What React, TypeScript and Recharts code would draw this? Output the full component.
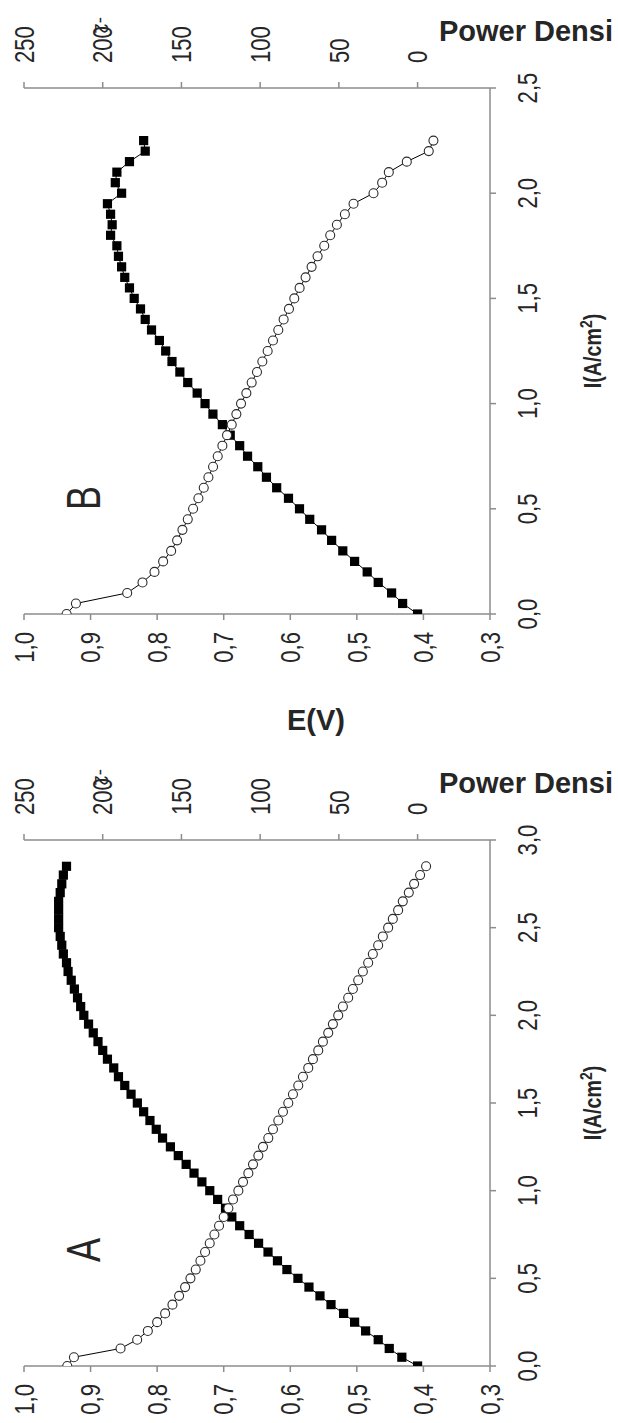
import React from 'react';
import { ScatterChart, Scatter, XAxis, YAxis } from 'recharts';

// ---------- data ----------
const currentA = [
  0, 0.05, 0.1, 0.15, 0.2, 0.25, 0.3, 0.35, 0.4, 0.45,
  0.5, 0.55, 0.6, 0.65, 0.7, 0.75, 0.8, 0.85, 0.9, 0.95,
  1.0, 1.05, 1.1, 1.15, 1.2, 1.25, 1.3, 1.35, 1.4, 1.45,
  1.5, 1.55, 1.6, 1.65, 1.7, 1.75, 1.8, 1.85, 1.9, 1.95,
  2.0, 2.05, 2.1, 2.15, 2.2, 2.25, 2.3, 2.35, 2.4, 2.45,
  2.5, 2.55, 2.6, 2.65, 2.7, 2.75, 2.8, 2.85,
];
const voltageA = [
  0.935, 0.925, 0.855, 0.83, 0.814, 0.8, 0.788, 0.777, 0.767, 0.758,
  0.75, 0.742, 0.735, 0.728, 0.721, 0.714, 0.707, 0.7, 0.693, 0.686,
  0.678, 0.671, 0.663, 0.656, 0.648, 0.641, 0.633, 0.626, 0.618, 0.611,
  0.603, 0.596, 0.588, 0.581, 0.573, 0.566, 0.558, 0.551, 0.543, 0.536,
  0.528, 0.521, 0.513, 0.506, 0.498, 0.491, 0.483, 0.476, 0.468, 0.461,
  0.453, 0.446, 0.438, 0.431, 0.422, 0.414, 0.405, 0.396,
];
const powerA = [
  0, 10, 18, 25, 33, 40, 47, 55, 62, 69,
  76, 83, 89, 95, 101, 107, 113, 118, 122, 127,
  132, 137, 142, 147, 152, 157, 162, 166, 170, 174,
  178, 182, 186, 190, 193, 197, 200, 203, 206, 209,
  212, 214, 216, 218, 220, 222, 223, 225, 226, 227,
  228, 228, 228, 228, 227, 226, 225, 223,
];

const currentB = [
  0, 0.05, 0.1, 0.15, 0.2, 0.25, 0.3, 0.35, 0.4, 0.45,
  0.5, 0.55, 0.6, 0.65, 0.7, 0.75, 0.8, 0.85, 0.9, 0.95,
  1.0, 1.05, 1.1, 1.15, 1.2, 1.25, 1.3, 1.35, 1.4, 1.45,
  1.5, 1.55, 1.6, 1.65, 1.7, 1.75, 1.8, 1.85, 1.9, 1.95,
  2.0, 2.05, 2.1, 2.15, 2.2, 2.25,
];
const voltageB = [
  0.936, 0.922, 0.845, 0.822, 0.804, 0.791, 0.779, 0.77, 0.762, 0.754,
  0.746, 0.738, 0.73, 0.723, 0.716, 0.709, 0.702, 0.695, 0.688, 0.681,
  0.674, 0.666, 0.658, 0.65, 0.642, 0.634, 0.626, 0.618, 0.61, 0.602,
  0.594, 0.586, 0.577, 0.568, 0.559, 0.549, 0.54, 0.53, 0.518, 0.505,
  0.475, 0.462, 0.452, 0.425, 0.392, 0.385,
];
const powerB = [
  0, 9.5, 16.5, 25, 32, 40, 47.5, 54.6, 61, 68.5,
  75, 82, 89.5, 96, 101.5, 108, 113, 119, 124, 130,
  135, 140, 146, 151, 156, 160, 164, 169, 173, 176,
  180, 183, 186, 188, 190, 191, 195, 194, 195, 197,
  188, 192, 191, 183, 173, 174,
];

const voltageTicks = [1.0, 0.9, 0.8, 0.7, 0.6, 0.5, 0.4, 0.3];
const powerTicks = [250, 200, 150, 100, 50, 0];
const currentTicksA = [0, 0.5, 1.0, 1.5, 2.0, 2.5, 3.0];
const currentTicksB = [0, 0.5, 1.0, 1.5, 2.0, 2.5];

const voltageTitle = 'E(V)';
const currentTitle = 'I(A/cm';
const powerTitle = 'Power Densi';

// ---------- style ----------
const FONT = "'Liberation Sans', Arial, Helvetica, sans-serif";
const AXIS = '#8c8c8c';
const INK = '#262626';

const comma = (v: number) => v.toFixed(1).replace('.', ',');

const BottomTick = (props: any) => {
  const { x, y, payload } = props;
  return (
    <g transform={`translate(${x},${y + 10}) rotate(-90) scale(0.82,1)`}>
      <text textAnchor="end" dy="0.36em" fontSize={27} fontFamily={FONT} fill={INK}>
        {comma(payload.value)}
      </text>
    </g>
  );
};

const TopTick = (props: any) => {
  const { x, y, payload } = props;
  return (
    <g transform={`translate(${x},${y - 17}) rotate(-90) scale(0.82,1)`}>
      <text textAnchor="start" dy="0.36em" fontSize={27} fontFamily={FONT} fill={INK}>
        {String(payload.value)}
      </text>
    </g>
  );
};

const RightTick = (props: any) => {
  const { x, y, payload } = props;
  return (
    <g transform={`translate(${x + 29},${y}) rotate(-90) scale(0.82,1)`}>
      <text textAnchor="middle" dy="0.36em" fontSize={27} fontFamily={FONT} fill={INK}>
        {comma(payload.value)}
      </text>
    </g>
  );
};

const OpenCircle = (p: any) => (
  <circle cx={p.cx} cy={p.cy} r={4.5} fill="#ffffff" stroke="#2a2a2a" strokeWidth={1.1} />
);
const FilledSquare = (p: any) => (
  <rect x={p.cx - 4.6} y={p.cy - 4.6} width={9.2} height={9.2} fill="#000000" />
);

const axisLine = { stroke: AXIS, strokeWidth: 1.5 };

type PanelProps = {
  current: number[];
  voltage: number[];
  power: number[];
  iMax: number;
  iTicks: number[];
};

const Panel = ({ current, voltage, power, iMax, iTicks }: PanelProps) => {
  const vData = current.map((c, k) => ({ x: voltage[k], y: c }));
  const pData = current.map((c, k) => ({ x: power[k], y: c }));
  return (
    <ScatterChart width={618} height={671} margin={{ top: 0, right: 28, bottom: 17, left: 24 }}>
      <XAxis
        xAxisId="e"
        type="number"
        dataKey="x"
        orientation="bottom"
        domain={[0.3, 1.0]}
        reversed
        ticks={voltageTicks}
        interval={0}
        height={40}
        axisLine={axisLine}
        tickLine={axisLine}
        tickSize={6}
        tick={<BottomTick />}
        allowDataOverflow
      />
      <XAxis
        xAxisId="p"
        type="number"
        dataKey="x"
        orientation="top"
        domain={[-46, 250]}
        reversed
        ticks={powerTicks}
        interval={0}
        height={88}
        axisLine={axisLine}
        tickLine={axisLine}
        tickSize={6}
        tick={<TopTick />}
        allowDataOverflow
      />
      <YAxis
        yAxisId="i"
        type="number"
        dataKey="y"
        orientation="right"
        domain={[0, iMax]}
        ticks={iTicks}
        interval={0}
        width={100}
        axisLine={axisLine}
        tickLine={axisLine}
        tickSize={6}
        tick={<RightTick />}
        allowDataOverflow
      />
      <YAxis
        yAxisId="l"
        type="number"
        dataKey="y"
        orientation="left"
        domain={[0, iMax]}
        width={0}
        axisLine={axisLine}
        tickLine={false}
        tick={false}
      />
      <Scatter
        data={pData}
        xAxisId="p"
        yAxisId="i"
        line={{ stroke: '#000', strokeWidth: 1 }}
        lineType="joint"
        shape={FilledSquare}
        isAnimationActive={false}
      />
      <Scatter
        data={vData}
        xAxisId="e"
        yAxisId="i"
        line={{ stroke: '#000', strokeWidth: 1 }}
        lineType="joint"
        shape={OpenCircle}
        isAnimationActive={false}
      />
    </ScatterChart>
  );
};

const PANEL_B_TOP = 0;
const PANEL_A_TOP = 752;

const Overlay = () => {
  const titles = [PANEL_B_TOP, PANEL_A_TOP];
  return (
    <svg
      width={618}
      height={1423}
      style={{ position: 'absolute', left: 0, top: 0, pointerEvents: 'none' }}
    >
      {titles.map((t, k) => (
        <g key={k}>
          <text x={613} y={t + 41} textAnchor="end" fontSize={29} fontWeight="bold" fontFamily={FONT} fill={INK}>
            {powerTitle}
          </text>
          <g transform={`translate(95,${t + 17}) rotate(90)`}>
            <text fontSize={19} fontFamily={FONT} fill={INK}>-2</text>
          </g>
          <g transform={`translate(592,${t + 351}) rotate(-90) scale(0.82,1)`}>
            <text textAnchor="middle" dy="0.36em" fontSize={24} fontWeight="bold" fontFamily={FONT} fill={INK}>
              {currentTitle}
              <tspan fontSize={17} dy="-9">2</tspan>
              <tspan dy="9">)</tspan>
            </text>
          </g>
        </g>
      ))}
      <g transform={`translate(83,${PANEL_B_TOP + 498}) rotate(-90) scale(0.75,1)`}>
        <text textAnchor="middle" dy="0.36em" fontSize={48} fontFamily={FONT} fill={INK}>B</text>
      </g>
      <g transform={`translate(83,${PANEL_A_TOP + 498}) rotate(-90) scale(0.75,1)`}>
        <text textAnchor="middle" dy="0.36em" fontSize={48} fontFamily={FONT} fill={INK}>A</text>
      </g>
      <text x={316} y={730} textAnchor="middle" fontSize={29} fontWeight="bold" fontFamily={FONT} fill={INK}>
        {voltageTitle}
      </text>
    </svg>
  );
};

export default function App() {
  return (
    <div
      style={{
        position: 'absolute',
        left: 0,
        top: 0,
        width: 618,
        height: 1423,
        overflow: 'hidden',
        background: '#fff',
      }}
    >
      <div style={{ position: 'absolute', left: 0, top: PANEL_B_TOP }}>
        <Panel current={currentB} voltage={voltageB} power={powerB} iMax={2.5} iTicks={currentTicksB} />
      </div>
      <div style={{ position: 'absolute', left: 0, top: PANEL_A_TOP }}>
        <Panel current={currentA} voltage={voltageA} power={powerA} iMax={3.0} iTicks={currentTicksA} />
      </div>
      <Overlay />
    </div>
  );
}
